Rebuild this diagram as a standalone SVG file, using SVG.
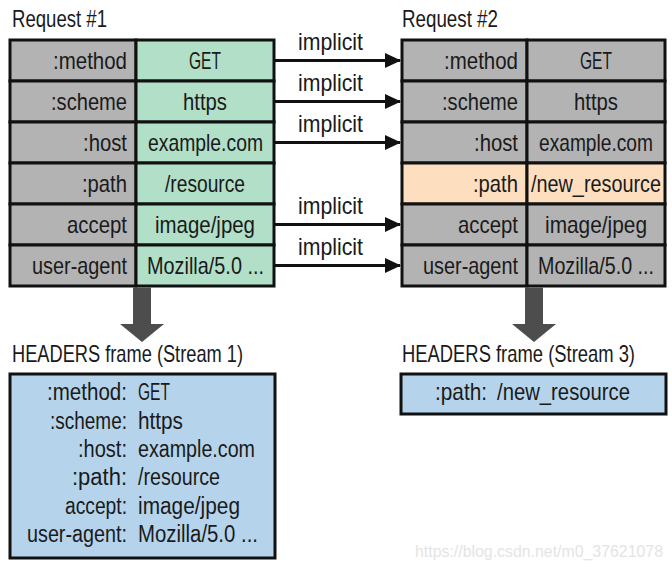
<svg xmlns="http://www.w3.org/2000/svg" width="672" height="569" viewBox="0 0 672 569">
<defs>
<style>
text{font-family:"Liberation Sans",Arial,sans-serif;font-size:24px;fill:#1a1a1a}
.t{font-size:24px}
.f{font-size:23px}
.g{fill:#b3b3b3;stroke:#111;stroke-width:3}
.n{fill:#b1dfc8;stroke:#111;stroke-width:3}
.o{fill:#fddfc0;stroke:#111;stroke-width:3}
.b{fill:#b5d4eb;stroke:#111;stroke-width:3}
.ln{stroke:#111;stroke-width:3;fill:none}
.ah{fill:#111}
.da{fill:#4d4d4d}
.wm{font-size:16px;fill:#e4e4e4}
</style>
<marker id="ah" viewBox="0 0 16 15" refX="15" refY="7.5" markerWidth="16" markerHeight="15" markerUnits="userSpaceOnUse" orient="auto">
<path d="M0,0 L16,7.5 L0,15 Z" class="ah"/>
</marker>
</defs>
<rect width="672" height="569" fill="#fff"/>

<text class="t" x="12" y="27" textLength="95" lengthAdjust="spacingAndGlyphs">Request #1</text>
<text class="t" x="402" y="27" textLength="96" lengthAdjust="spacingAndGlyphs">Request #2</text>

<g id="request1">
<rect class="g" x="10" y="40" width="126" height="41"/><rect class="n" x="136" y="40" width="138" height="41"/>
<rect class="g" x="10" y="81" width="126" height="41"/><rect class="n" x="136" y="81" width="138" height="41"/>
<rect class="g" x="10" y="122" width="126" height="41"/><rect class="n" x="136" y="122" width="138" height="41"/>
<rect class="g" x="10" y="163" width="126" height="41"/><rect class="n" x="136" y="163" width="138" height="41"/>
<rect class="g" x="10" y="204" width="126" height="41"/><rect class="n" x="136" y="204" width="138" height="41"/>
<rect class="g" x="10" y="245" width="126" height="41"/><rect class="n" x="136" y="245" width="138" height="41"/>
<text x="53" y="68.5" textLength="74" lengthAdjust="spacingAndGlyphs">:method</text>
<text x="51" y="109.5" textLength="76" lengthAdjust="spacingAndGlyphs">:scheme</text>
<text x="83" y="150.5" textLength="44" lengthAdjust="spacingAndGlyphs">:host</text>
<text x="82" y="191.5" textLength="45" lengthAdjust="spacingAndGlyphs">:path</text>
<text x="67" y="232.5" textLength="60" lengthAdjust="spacingAndGlyphs">accept</text>
<text x="32" y="273.5" textLength="95" lengthAdjust="spacingAndGlyphs">user-agent</text>
<text x="189" y="68.5" textLength="32" lengthAdjust="spacingAndGlyphs">GET</text>
<text x="183" y="109.5" textLength="44" lengthAdjust="spacingAndGlyphs">https</text>
<text x="148" y="150.5" textLength="115" lengthAdjust="spacingAndGlyphs">example.com</text>
<text x="165" y="191.5" textLength="80" lengthAdjust="spacingAndGlyphs">/resource</text>
<text x="155" y="232.5" textLength="100" lengthAdjust="spacingAndGlyphs">image/jpeg</text>
<text x="147" y="273.5" textLength="117" lengthAdjust="spacingAndGlyphs">Mozilla/5.0 ...</text>
</g>

<g id="request2">
<rect class="g" x="402" y="40" width="125" height="41"/><rect class="g" x="527" y="40" width="138" height="41"/>
<rect class="g" x="402" y="81" width="125" height="41"/><rect class="g" x="527" y="81" width="138" height="41"/>
<rect class="g" x="402" y="122" width="125" height="41"/><rect class="g" x="527" y="122" width="138" height="41"/>
<rect class="o" x="402" y="163" width="125" height="41"/><rect class="o" x="527" y="163" width="138" height="41"/>
<rect class="g" x="402" y="204" width="125" height="41"/><rect class="g" x="527" y="204" width="138" height="41"/>
<rect class="g" x="402" y="245" width="125" height="41"/><rect class="g" x="527" y="245" width="138" height="41"/>
<text x="444" y="68.5" textLength="74" lengthAdjust="spacingAndGlyphs">:method</text>
<text x="442" y="109.5" textLength="76" lengthAdjust="spacingAndGlyphs">:scheme</text>
<text x="474" y="150.5" textLength="44" lengthAdjust="spacingAndGlyphs">:host</text>
<text x="473" y="191.5" textLength="45" lengthAdjust="spacingAndGlyphs">:path</text>
<text x="458" y="232.5" textLength="60" lengthAdjust="spacingAndGlyphs">accept</text>
<text x="423" y="273.5" textLength="95" lengthAdjust="spacingAndGlyphs">user-agent</text>
<text x="580" y="68.5" textLength="32" lengthAdjust="spacingAndGlyphs">GET</text>
<text x="574" y="109.5" textLength="44" lengthAdjust="spacingAndGlyphs">https</text>
<text x="539" y="150.5" textLength="114" lengthAdjust="spacingAndGlyphs">example.com</text>
<text x="531" y="191.5" textLength="130" lengthAdjust="spacingAndGlyphs">/new_resource</text>
<text x="545" y="232.5" textLength="102" lengthAdjust="spacingAndGlyphs">image/jpeg</text>
<text x="538" y="273.5" textLength="116" lengthAdjust="spacingAndGlyphs">Mozilla/5.0 ...</text>
</g>

<g id="connectors">
<line class="ln" x1="275" y1="60.5" x2="400" y2="60.5" marker-end="url(#ah)"/>
<line class="ln" x1="275" y1="101.5" x2="400" y2="101.5" marker-end="url(#ah)"/>
<line class="ln" x1="275" y1="142.5" x2="400" y2="142.5" marker-end="url(#ah)"/>
<line class="ln" x1="275" y1="224.5" x2="400" y2="224.5" marker-end="url(#ah)"/>
<line class="ln" x1="275" y1="265.5" x2="400" y2="265.5" marker-end="url(#ah)"/>
<text x="298" y="50" textLength="65" lengthAdjust="spacingAndGlyphs">implicit</text>
<text x="298" y="91" textLength="65" lengthAdjust="spacingAndGlyphs">implicit</text>
<text x="298" y="132" textLength="65" lengthAdjust="spacingAndGlyphs">implicit</text>
<text x="298" y="214" textLength="65" lengthAdjust="spacingAndGlyphs">implicit</text>
<text x="298" y="255" textLength="65" lengthAdjust="spacingAndGlyphs">implicit</text>
<path class="da" d="M133,287.5 H151 V324 H164 L142,342 L120,324 H133 Z"/>
<path class="da" d="M525,287.5 H543 V324 H556 L534,342 L512,324 H525 Z"/>
</g>

<text class="t" x="12" y="362" textLength="231" lengthAdjust="spacingAndGlyphs">HEADERS frame (Stream 1)</text>
<text class="t" x="402" y="362" textLength="233" lengthAdjust="spacingAndGlyphs">HEADERS frame (Stream 3)</text>

<g id="frame1" class="f">
<rect class="b" x="10" y="374" width="265" height="184"/>
<text class="f" x="47" y="400" textLength="80" lengthAdjust="spacingAndGlyphs">:method:</text>
<text class="f" x="50" y="428.5" textLength="77" lengthAdjust="spacingAndGlyphs">:scheme:</text>
<text class="f" x="78" y="457" textLength="49" lengthAdjust="spacingAndGlyphs">:host:</text>
<text class="f" x="72" y="485" textLength="55" lengthAdjust="spacingAndGlyphs">:path:</text>
<text class="f" x="65" y="513.5" textLength="62" lengthAdjust="spacingAndGlyphs">accept:</text>
<text class="f" x="27" y="542" textLength="100" lengthAdjust="spacingAndGlyphs">user-agent:</text>
<text class="f" x="138" y="400" textLength="32" lengthAdjust="spacingAndGlyphs">GET</text>
<text class="f" x="138" y="428.5" textLength="45" lengthAdjust="spacingAndGlyphs">https</text>
<text class="f" x="138" y="457" textLength="117" lengthAdjust="spacingAndGlyphs">example.com</text>
<text class="f" x="138" y="485" textLength="82" lengthAdjust="spacingAndGlyphs">/resource</text>
<text class="f" x="138" y="513.5" textLength="102" lengthAdjust="spacingAndGlyphs">image/jpeg</text>
<text class="f" x="138" y="542" textLength="120" lengthAdjust="spacingAndGlyphs">Mozilla/5.0 ...</text>
</g>

<g id="frame3">
<rect class="b" x="401" y="374" width="265" height="40"/>
<text x="435" y="400" textLength="52" lengthAdjust="spacingAndGlyphs">:path:</text>
<text x="497" y="400" textLength="133" lengthAdjust="spacingAndGlyphs">/new_resource</text>
</g>

<text class="wm" x="415" y="557" textLength="248" lengthAdjust="spacingAndGlyphs">https://blog.csdn.net/m0_37621078</text>
</svg>
